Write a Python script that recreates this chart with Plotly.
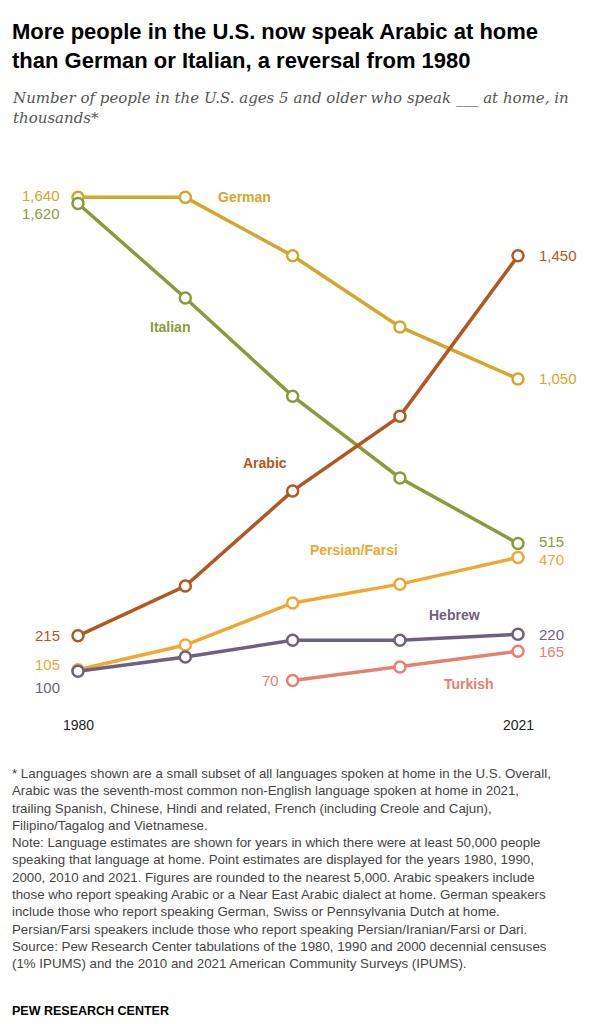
import plotly.graph_objects as go

years = [1980, 1990, 2000, 2010, 2021]
german = [1640, 1640, 1450, 1219, 1050]
italian = [1620, 1313, 994, 728, 515]
arabic = [215, 377, 686, 929, 1450]
persian = [105, 185, 322, 383, 470]
hebrew = [100, 146, 201, 201, 220]
turkish_years = [2000, 2010, 2021]
turkish = [70, 114, 165]

W, H = 601, 1024
OFF = 8  # page body offset
PXY = 10.732  # px per year
PXV = 0.3077  # px per thousand
X0PX, Y0PX = 78 - OFF, 702 - OFF
xr = [1980 - X0PX / PXY, 1980 + (W - X0PX) / PXY]
yr = [-(H - Y0PX) / PXV, Y0PX / PXV]

series = [
    ("German", years, german, "#d4a62a"),
    ("Italian", years, italian, "#8a9b3a"),
    ("Arabic", years, arabic, "#b3571f"),
    ("Persian/Farsi", years, persian, "#f0a833"),
    ("Hebrew", years, hebrew, "#6e6180"),
    ("Turkish", turkish_years, turkish, "#e5816e"),
]

fig = go.Figure()
for name, xs, ys, c in series:
    fig.add_trace(go.Scatter(x=xs, y=ys, mode="lines+markers", name=name,
                             line=dict(color=c, width=3.5),
                             marker=dict(size=11, color="white", line=dict(color=c, width=2.5)),
                             showlegend=False, hoverinfo="skip"))

SANS = "Liberation Sans, Arial, sans-serif"
ann = []
def lab(x, y, t, c, anchor, bold=False, size=15, xshift=0, yshift=0):
    ann.append(dict(x=x, y=y, xref="x", yref="y", text=("<b>%s</b>" % t) if bold else t,
                    showarrow=False, xanchor=anchor, yanchor="middle",
                    xshift=xshift, yshift=yshift,
                    font=dict(family=SANS, size=size, color=c)))

def f(v):
    return "{:,}".format(v)

cG, cI, cA, cP, cH, cT = [s[3] for s in series]
lab(1980, german[0], f(german[0]), cG, "right", xshift=-16, yshift=2)
lab(1980, italian[0], f(italian[0]), cI, "right", xshift=-16, yshift=-10)
lab(1980, arabic[0], f(arabic[0]), cA, "right", xshift=-16)
lab(1980, persian[0], f(persian[0]), cP, "right", xshift=-16, yshift=5)
lab(1980, hebrew[0], f(hebrew[0]), cH, "right", xshift=-16, yshift=-16)
lab(2021, arabic[-1], f(arabic[-1]), cA, "left", xshift=19)
lab(2021, german[-1], f(german[-1]), cG, "left", xshift=19)
lab(2021, italian[-1], f(italian[-1]), cI, "left", xshift=19, yshift=2)
lab(2021, persian[-1], f(persian[-1]), cP, "left", xshift=19, yshift=-2)
lab(2021, hebrew[-1], f(hebrew[-1]), cH, "left", xshift=19)
lab(2021, turkish[-1], f(turkish[-1]), cT, "left", xshift=19)
lab(2000, turkish[0], f(turkish[0]), cT, "right", xshift=-12)
lab(1995.5, german[1], "German", cG, "center", bold=True, size=14)
lab(1988.6, 1220, "Italian", cI, "center", bold=True, size=14)
lab(1997.4, 778, "Arabic", cA, "center", bold=True, size=14)
lab(2005.7, 493, "Persian/Farsi", cP, "center", bold=True, size=14)
lab(2015.1, 283, "Hebrew", cH, "center", bold=True, size=14)
lab(2016.4, 58, "Turkish", cT, "center", bold=True, size=14)
lab(1980, -75, "1980", "#222", "center", size=14)
lab(2021, -75, "2021", "#222", "center", size=14)

def ptxt(ypx, t, size, color="#000", fam=SANS):
    ann.append(dict(x=2 / W, y=1 - ypx / H, xref="paper", yref="paper", text=t,
                    showarrow=False, xanchor="left", yanchor="top", align="left",
                    font=dict(family=fam, size=size, color=color)))

ptxt(9, "<b>More people in the U.S. now speak Arabic at home<br>than German or Italian, a reversal from 1980</b>", 22, "#000")
ptxt(79, "<i>Number of people in the U.S. ages 5 and older who speak ___ at home, in<br>thousands*</i>", 15, "#555", "DejaVu Serif, serif")
foot = ("* Languages shown are a small subset of all languages spoken at home in the U.S. Overall,<br>"
        "Arabic was the seventh-most common non-English language spoken at home in 2021,<br>"
        "trailing Spanish, Chinese, Hindi and related, French (including Creole and Cajun),<br>"
        "Filipino/Tagalog and Vietnamese.<br>"
        "Note: Language estimates are shown for years in which there were at least 50,000 people<br>"
        "speaking that language at home. Point estimates are displayed for the years 1980, 1990,<br>"
        "2000, 2010 and 2021. Figures are rounded to the nearest 5,000. Arabic speakers include<br>"
        "those who report speaking Arabic or a Near East Arabic dialect at home. German speakers<br>"
        "include those who report speaking German, Swiss or Pennsylvania Dutch at home.<br>"
        "Persian/Farsi speakers include those who report speaking Persian/Iranian/Farsi or Dari.<br>"
        "Source: Pew Research Center tabulations of the 1980, 1990 and 2000 decennial censuses<br>"
        "(1% IPUMS) and the 2010 and 2021 American Community Surveys (IPUMS).")
ptxt(756, foot, 13.3, "#444")
ptxt(994, "<b>PEW RESEARCH CENTER</b>", 12.5, "#000")

fig.update_layout(width=W, height=H, margin=dict(l=0, r=0, t=0, b=0),
                  paper_bgcolor="white", plot_bgcolor="white", annotations=ann,
                  xaxis=dict(range=xr, visible=False, fixedrange=True),
                  yaxis=dict(range=yr, visible=False, fixedrange=True))
fig.write_html("out.html")
